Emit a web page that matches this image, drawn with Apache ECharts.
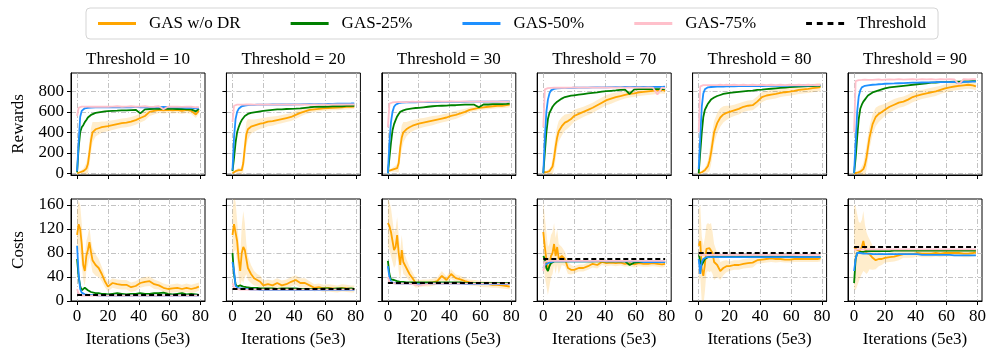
<!DOCTYPE html>
<html>
<head>
<meta charset="utf-8">
<script src="https://cdn.jsdelivr.net/npm/echarts@6/dist/echarts.min.js"></script>
<style>
html, body { margin: 0; padding: 0; background: #fff; }
#chart { width: 997px; height: 360px; }
</style>
</head>
<body>
<div id="chart"></div>
<script>
// x positions (iterations, in units of 5e3) shared by every curve
const iters = [0, 1, 2, 3, 4, 5, 6, 7, 8, 9, 10, 12, 14, 16, 18, 20, 23, 26, 29, 32, 35, 38, 41, 44, 47, 50, 53, 56, 59, 62, 65, 68, 71, 74, 77, 79];
const thresholds = [10, 20, 30, 70, 80, 90];
const xTicks = [0, 20, 40, 60, 80];
const rewardTicks = [0, 200, 400, 600, 800];
const costTicks = [0, 40, 80, 120, 160];

// rewards, one row per threshold panel
const rewardWoDR = [
  [0, 5, 10, 15, 20, 30, 45, 90, 200, 320, 400, 430, 440, 450, 455, 460, 470, 480, 490, 495, 505, 520, 540, 560, 600, 610, 620, 615, 620, 615, 620, 610, 620, 610, 575, 615],
  [0, 10, 20, 25, 30, 20, 30, 100, 250, 380, 430, 455, 465, 475, 485, 490, 505, 510, 520, 530, 540, 550, 570, 590, 605, 620, 625, 630, 635, 638, 640, 642, 645, 648, 650, 652],
  [20, 25, 30, 35, 40, 45, 50, 100, 250, 350, 400, 430, 450, 465, 475, 485, 495, 505, 515, 525, 535, 545, 560, 570, 585, 600, 620, 630, 640, 645, 650, 655, 660, 660, 665, 670],
  [10, 10, 10, 15, 20, 30, 65, 150, 260, 350, 410, 460, 495, 510, 530, 560, 580, 600, 620, 640, 665, 690, 715, 730, 745, 755, 765, 775, 780, 790, 795, 800, 805, 810, 815, 805],
  [0, 5, 10, 20, 30, 45, 70, 120, 200, 300, 400, 490, 545, 575, 590, 600, 615, 630, 650, 660, 665, 700, 745, 760, 768, 775, 785, 792, 798, 805, 815, 820, 825, 832, 838, 842],
  [0, 0, 5, 10, 15, 25, 40, 80, 150, 250, 350, 480, 550, 580, 600, 620, 650, 670, 690, 700, 720, 745, 760, 770, 780, 790, 800, 815, 830, 840, 848, 855, 860, 865, 860, 850]
];
const rewardWoDRSpread = [
  [5, 10, 15, 20, 25, 40, 60, 90, 120, 120, 100, 70, 60, 55, 50, 50, 48, 45, 45, 45, 45, 45, 45, 45, 40, 35, 30, 30, 30, 30, 30, 30, 30, 30, 35, 30],
  [5, 10, 15, 20, 25, 30, 40, 90, 120, 120, 100, 70, 60, 55, 50, 50, 45, 45, 40, 40, 40, 40, 40, 35, 30, 30, 25, 25, 25, 25, 25, 25, 25, 25, 25, 25],
  [5, 10, 15, 20, 25, 30, 40, 90, 120, 120, 100, 70, 60, 55, 50, 50, 45, 45, 45, 40, 40, 40, 40, 40, 35, 30, 25, 25, 25, 25, 25, 25, 25, 25, 25, 25],
  [5, 10, 15, 20, 25, 40, 80, 110, 120, 110, 100, 90, 80, 70, 60, 60, 55, 50, 50, 50, 50, 50, 50, 50, 45, 40, 35, 35, 35, 35, 35, 35, 35, 35, 35, 30],
  [5, 10, 15, 20, 25, 40, 60, 100, 120, 120, 110, 100, 90, 80, 70, 60, 55, 55, 50, 50, 50, 50, 50, 45, 45, 45, 40, 40, 40, 40, 40, 40, 40, 40, 40, 40],
  [5, 10, 15, 20, 25, 40, 60, 100, 120, 120, 110, 100, 90, 80, 70, 60, 55, 55, 50, 50, 50, 50, 50, 45, 45, 45, 45, 40, 40, 40, 40, 40, 40, 40, 40, 40]
];
const reward25 = [
  [10, 250, 400, 450, 470, 500, 520, 545, 560, 570, 580, 590, 595, 600, 605, 608, 610, 612, 615, 615, 618, 620, 585, 625, 628, 630, 630, 630, 632, 630, 628, 630, 625, 625, 605, 630],
  [20, 150, 300, 400, 450, 490, 520, 540, 560, 570, 580, 590, 595, 600, 605, 610, 615, 620, 625, 625, 628, 630, 632, 635, 640, 645, 648, 650, 650, 652, 655, 655, 655, 658, 660, 660],
  [0, 150, 300, 420, 480, 520, 555, 580, 600, 610, 615, 625, 630, 635, 638, 640, 645, 650, 655, 658, 660, 662, 665, 665, 668, 670, 670, 670, 645, 672, 672, 675, 675, 676, 678, 680],
  [0, 200, 400, 530, 590, 620, 650, 670, 686, 700, 715, 730, 745, 752, 758, 762, 768, 774, 780, 785, 790, 798, 802, 806, 810, 816, 818, 775, 820, 822, 822, 823, 823, 823, 823, 823],
  [0, 200, 400, 550, 620, 650, 680, 700, 720, 730, 740, 755, 765, 775, 780, 785, 790, 795, 800, 805, 808, 815, 818, 822, 826, 830, 834, 838, 842, 845, 848, 850, 852, 853, 855, 855],
  [0, 150, 350, 530, 630, 670, 700, 720, 740, 760, 775, 790, 800, 810, 820, 830, 840, 845, 850, 855, 860, 865, 870, 875, 880, 885, 887, 890, 890, 892, 895, 895, 897, 898, 900, 900]
];
const reward50 = [
  [20, 300, 550, 610, 625, 635, 640, 640, 642, 642, 643, 645, 645, 645, 645, 645, 645, 645, 645, 645, 645, 648, 645, 645, 645, 645, 645, 648, 645, 645, 645, 643, 640, 640, 635, 635],
  [30, 350, 530, 600, 630, 645, 655, 660, 662, 665, 665, 668, 668, 670, 670, 670, 670, 672, 672, 672, 672, 672, 674, 674, 675, 675, 675, 676, 676, 678, 678, 680, 680, 680, 682, 684],
  [0, 300, 500, 600, 650, 670, 680, 685, 688, 690, 690, 692, 692, 694, 694, 695, 695, 695, 696, 696, 697, 697, 698, 698, 698, 698, 700, 700, 700, 700, 700, 700, 700, 702, 702, 702],
  [0, 350, 600, 720, 780, 810, 820, 825, 828, 830, 830, 832, 834, 835, 835, 836, 837, 838, 838, 839, 840, 840, 840, 842, 842, 842, 843, 843, 844, 844, 844, 845, 845, 845, 845, 846],
  [40, 350, 650, 780, 820, 835, 840, 842, 843, 844, 845, 846, 847, 848, 849, 850, 850, 851, 851, 852, 852, 853, 853, 854, 854, 855, 855, 855, 856, 856, 857, 858, 858, 859, 860, 862],
  [0, 300, 600, 750, 810, 840, 850, 855, 858, 860, 862, 865, 867, 870, 872, 875, 877, 878, 880, 882, 884, 885, 886, 887, 888, 889, 890, 890, 890, 891, 892, 880, 893, 894, 895, 895]
];
const reward75 = [
  [560, 640, 650, 652, 650, 652, 650, 652, 650, 650, 652, 650, 652, 650, 652, 650, 652, 655, 650, 652, 655, 650, 652, 655, 648, 650, 655, 625, 650, 652, 650, 648, 652, 650, 645, 645],
  [500, 660, 668, 670, 668, 670, 672, 670, 670, 672, 670, 672, 670, 670, 672, 670, 672, 670, 672, 670, 672, 670, 672, 670, 672, 670, 672, 670, 672, 670, 672, 672, 674, 672, 674, 672],
  [450, 680, 690, 692, 695, 695, 695, 698, 695, 695, 698, 695, 698, 700, 698, 700, 698, 700, 700, 702, 700, 700, 702, 700, 700, 702, 700, 700, 702, 700, 700, 702, 700, 702, 700, 702],
  [450, 820, 830, 832, 835, 835, 838, 836, 838, 836, 838, 838, 836, 838, 838, 840, 838, 840, 838, 840, 838, 840, 838, 840, 838, 840, 838, 840, 838, 840, 838, 840, 838, 770, 838, 830],
  [400, 850, 860, 862, 865, 862, 865, 862, 865, 862, 865, 862, 865, 862, 865, 862, 865, 862, 865, 862, 865, 862, 865, 862, 865, 862, 865, 862, 865, 862, 865, 862, 865, 862, 865, 862],
  [400, 900, 905, 910, 908, 912, 910, 915, 910, 912, 915, 912, 915, 918, 912, 915, 918, 915, 920, 915, 918, 920, 915, 920, 918, 920, 915, 920, 918, 920, 918, 870, 920, 918, 920, 920]
];

// costs, one row per threshold panel
const costWoDR = [
  [110, 128, 120, 95, 60, 50, 75, 85, 98, 82, 68, 60, 55, 45, 33, 24, 30, 28, 27, 27, 23, 25, 30, 32, 33, 28, 26, 22, 20, 21, 22, 20, 22, 20, 22, 24],
  [110, 128, 125, 100, 70, 50, 80, 90, 85, 70, 55, 45, 38, 35, 32, 26, 28, 26, 30, 26, 28, 32, 35, 30, 30, 26, 22, 23, 21, 22, 21, 20, 22, 21, 20, 20],
  [130, 125, 115, 100, 85, 90, 110, 80, 60, 85, 65, 55, 45, 38, 30, 29, 30, 30, 31, 33, 42, 35, 45, 38, 36, 33, 31, 30, 29, 28, 28, 27, 27, 26, 25, 24],
  [115, 90, 70, 50, 60, 75, 80, 95, 75, 90, 70, 75, 70, 55, 52, 52, 55, 55, 58, 62, 60, 65, 63, 64, 63, 64, 62, 63, 61, 63, 62, 62, 63, 62, 61, 62],
  [92, 100, 53, 42, 60, 87, 90, 88, 90, 80, 65, 60, 50, 55, 58, 58, 60, 60, 62, 63, 64, 68, 69, 70, 71, 70, 70, 69, 69, 70, 70, 70, 70, 70, 70, 71],
  [90, 88, 85, 82, 85, 90, 100, 88, 80, 78, 78, 72, 68, 70, 70, 72, 73, 74, 76, 78, 78, 78, 80, 79, 79, 79, 80, 79, 80, 80, 80, 80, 79, 79, 80, 81]
];
const costWoDRSpread = [
  [40, 40, 40, 35, 25, 25, 25, 25, 25, 20, 20, 18, 15, 12, 10, 8, 8, 8, 8, 8, 8, 8, 8, 8, 8, 8, 7, 7, 7, 7, 7, 7, 7, 7, 7, 7],
  [40, 45, 40, 35, 30, 25, 45, 60, 45, 25, 20, 15, 12, 10, 10, 8, 8, 8, 8, 8, 8, 8, 8, 8, 8, 7, 6, 6, 6, 6, 6, 6, 6, 6, 6, 6],
  [40, 40, 40, 35, 30, 30, 30, 30, 25, 25, 20, 15, 12, 10, 8, 6, 6, 6, 6, 6, 8, 6, 8, 6, 6, 5, 5, 5, 5, 5, 5, 5, 5, 5, 5, 5],
  [50, 50, 45, 40, 35, 35, 35, 35, 30, 30, 25, 15, 12, 10, 8, 6, 6, 6, 6, 6, 6, 5, 5, 5, 5, 5, 5, 5, 5, 5, 5, 5, 5, 5, 5, 5],
  [60, 60, 55, 50, 45, 40, 40, 40, 40, 35, 30, 20, 15, 12, 10, 8, 8, 8, 8, 8, 8, 6, 6, 6, 6, 6, 5, 5, 5, 5, 5, 5, 5, 5, 5, 5],
  [70, 70, 60, 50, 45, 45, 50, 40, 35, 30, 25, 20, 15, 12, 10, 8, 8, 8, 8, 6, 6, 6, 6, 6, 6, 6, 6, 6, 6, 6, 6, 6, 6, 6, 6, 6]
];
const cost25 = [
  [70, 40, 25, 18, 16, 22, 20, 18, 16, 15, 14, 13, 13, 12, 12, 11, 12, 13, 12, 11, 12, 12, 13, 12, 12, 13, 13, 14, 12, 11, 12, 13, 11, 12, 11, 10],
  [80, 45, 28, 24, 22, 26, 25, 24, 24, 23, 23, 22, 22, 22, 21, 21, 21, 21, 20, 21, 21, 21, 21, 20, 20, 20, 20, 20, 21, 21, 20, 21, 21, 20, 21, 20],
  [67, 45, 36, 34, 35, 33, 33, 32, 32, 32, 32, 31, 31, 31, 31, 31, 31, 31, 31, 31, 31, 31, 31, 31, 31, 30, 30, 30, 30, 30, 30, 30, 30, 30, 30, 30],
  [75, 70, 55, 50, 58, 63, 65, 66, 66, 66, 66, 66, 66, 66, 66, 66, 66, 66, 66, 66, 66, 66, 66, 66, 66, 66, 66, 60, 64, 65, 65, 65, 65, 65, 65, 65],
  [80, 65, 60, 65, 70, 72, 73, 74, 74, 74, 74, 74, 74, 74, 74, 74, 74, 74, 74, 74, 74, 74, 74, 74, 74, 74, 74, 74, 74, 74, 73, 73, 73, 73, 73, 73],
  [30, 70, 80, 82, 82, 82, 82, 83, 83, 83, 83, 83, 83, 83, 83, 83, 83, 84, 84, 84, 84, 84, 84, 84, 84, 84, 84, 84, 84, 84, 84, 84, 84, 84, 84, 84]
];
const cost50 = [
  [92, 45, 20, 14, 12, 11, 10, 10, 10, 10, 10, 10, 9, 9, 9, 9, 9, 9, 9, 9, 9, 9, 9, 9, 9, 9, 9, 9, 9, 9, 9, 9, 9, 9, 9, 9],
  [65, 50, 25, 22, 21, 22, 21, 20, 20, 20, 20, 19, 19, 19, 18, 18, 18, 18, 18, 18, 18, 18, 18, 18, 18, 18, 18, 18, 18, 18, 18, 18, 18, 18, 18, 18],
  [58, 40, 32, 30, 30, 30, 29, 29, 29, 29, 29, 29, 29, 28, 28, 28, 28, 28, 29, 29, 29, 29, 29, 29, 29, 28, 28, 28, 28, 28, 28, 28, 28, 28, 28, 29],
  [55, 60, 62, 63, 64, 65, 66, 66, 66, 66, 66, 66, 66, 66, 66, 66, 66, 66, 66, 66, 67, 67, 66, 66, 66, 66, 66, 66, 66, 66, 65, 65, 65, 65, 65, 65],
  [70, 45, 65, 70, 73, 73, 73, 73, 73, 73, 73, 73, 73, 73, 73, 73, 73, 73, 73, 73, 73, 73, 73, 73, 73, 73, 73, 73, 73, 73, 73, 73, 73, 73, 73, 73],
  [50, 70, 80, 78, 80, 79, 79, 79, 79, 79, 79, 78, 78, 78, 78, 78, 78, 78, 78, 78, 78, 78, 78, 77, 77, 77, 77, 77, 77, 77, 76, 76, 76, 76, 76, 76]
];
const cost75 = [
  [20, 12, 10, 9, 9, 9, 9, 9, 9, 9, 9, 9, 9, 9, 9, 9, 9, 9, 9, 9, 9, 9, 9, 9, 9, 9, 9, 9, 9, 9, 9, 9, 9, 9, 9, 9],
  [30, 22, 20, 20, 19, 19, 19, 19, 19, 19, 19, 19, 19, 19, 19, 19, 19, 19, 19, 19, 19, 19, 19, 19, 19, 19, 19, 19, 19, 19, 19, 19, 19, 19, 19, 19],
  [40, 32, 30, 30, 30, 29, 29, 29, 29, 29, 29, 29, 29, 28, 27, 26, 27, 28, 29, 29, 29, 29, 29, 29, 29, 29, 29, 29, 29, 29, 29, 29, 29, 29, 29, 29],
  [50, 65, 66, 67, 67, 67, 67, 67, 67, 67, 67, 67, 67, 67, 67, 67, 67, 67, 67, 67, 67, 67, 67, 67, 67, 67, 67, 67, 67, 67, 67, 67, 67, 67, 67, 67],
  [80, 76, 77, 77, 77, 77, 77, 77, 77, 77, 77, 77, 77, 77, 77, 77, 77, 77, 77, 77, 77, 77, 77, 77, 77, 77, 77, 77, 77, 77, 77, 77, 77, 77, 77, 77],
  [85, 86, 86, 86, 86, 86, 86, 86, 86, 86, 86, 86, 86, 86, 86, 86, 86, 86, 86, 86, 86, 86, 86, 86, 86, 86, 86, 86, 86, 86, 86, 86, 86, 86, 86, 86]
];

const FONT = '"Liberation Serif", "Times New Roman", serif';
const colLeft = 71, colStep = 155.4, colWidth = 134;
const rowTop = [73, 199], rowHeight = 102;

const rewardSets = [
  { name: 'GAS w/o DR', color: '#ffa500', data: rewardWoDR },
  { name: 'GAS-25%', color: '#008000', data: reward25 },
  { name: 'GAS-50%', color: '#1e90ff', data: reward50 },
  { name: 'GAS-75%', color: '#ffc0cb', data: reward75 }
];
const costSets = [
  { name: 'GAS w/o DR', color: '#ffa500', data: costWoDR },
  { name: 'GAS-25%', color: '#008000', data: cost25 },
  { name: 'GAS-50%', color: '#1e90ff', data: cost50 },
  { name: 'GAS-75%', color: '#ffc0cb', data: cost75 }
];

function pairs(vals) {
  return vals.map((v, i) => [iters[i], v]);
}

// filled band mean +- spread, drawn as one polygon through the axis scales
function bandSeries(k, mean, spread) {
  return {
    type: 'custom', xAxisIndex: k, yAxisIndex: k, silent: true, z: 1, clip: true,
    data: mean.map((v, i) => [iters[i], v - spread[i], v + spread[i]]),
    encode: { x: 0, y: [1, 2] },
    renderItem: function (params, api) {
      if (params.dataIndex !== 0) return;
      const upper = [], lower = [];
      for (let i = 0; i < iters.length; i++) {
        upper.push(api.coord([iters[i], mean[i] + spread[i]]));
        lower.unshift(api.coord([iters[i], mean[i] - spread[i]]));
      }
      return {
        type: 'polygon',
        shape: { points: upper.concat(lower) },
        style: { fill: 'rgba(255,165,0,0.2)', stroke: 'none' }
      };
    }
  };
}

const gridLine = { color: '#b4b4b4', width: 0.8, type: [5, 2, 1, 2] };
const labelStyle = { color: '#000', fontSize: 17, fontFamily: FONT };

const grids = [], xAxes = [], yAxes = [], series = [];

for (let row = 0; row < 2; row++) {
  for (let col = 0; col < 6; col++) {
    const k = row * 6 + col;
    const yTicks = row === 0 ? rewardTicks : costTicks;
    grids.push({
      left: colLeft + col * colStep, top: rowTop[row], width: colWidth, height: rowHeight,
      show: true, borderColor: '#000', borderWidth: 1, backgroundColor: 'transparent'
    });
    xAxes.push({
      type: 'value', gridIndex: k, min: -3.95, max: 82.95,
      axisLine: { show: true, onZero: false, lineStyle: { color: '#000' } },
      axisTick: { show: true, customValues: xTicks, length: 4, lineStyle: { color: '#000' } },
      axisLabel: Object.assign({ show: row === 1, customValues: xTicks, margin: 7 }, labelStyle),
      splitLine: { show: true, lineStyle: gridLine },
      name: row === 1 ? 'Iterations (5e3)' : '',
      nameLocation: 'middle', nameGap: 30, nameTextStyle: labelStyle
    });
    yAxes.push({
      type: 'value', gridIndex: k,
      min: row === 0 ? -17 : 0, max: row === 0 ? 980 : 170,
      axisLine: { show: true, onZero: false, lineStyle: { color: '#000' } },
      axisTick: { show: true, customValues: yTicks, length: 4, lineStyle: { color: '#000' } },
      axisLabel: Object.assign({ show: col === 0, customValues: yTicks, margin: 7 }, labelStyle),
      splitLine: { show: true, lineStyle: gridLine },
      name: col === 0 ? (row === 0 ? 'Rewards' : 'Costs') : '',
      nameLocation: 'middle', nameGap: 44, nameRotate: 90, nameTextStyle: labelStyle
    });

    const sets = row === 0 ? rewardSets : costSets;
    const spread = row === 0 ? rewardWoDRSpread[col] : costWoDRSpread[col];
    series.push(bandSeries(k, sets[0].data[col], spread));

    sets.forEach(s => {
      series.push({
        name: s.name, type: 'line', xAxisIndex: k, yAxisIndex: k,
        symbol: 'none', z: 3, color: s.color,
        lineStyle: { width: 1.8, color: s.color },
        data: pairs(s.data[col])
      });
    });

    if (row === 1) {
      series.push({
        name: 'Threshold', type: 'line', xAxisIndex: k, yAxisIndex: k,
        symbol: 'none', z: 4, color: '#000',
        lineStyle: { width: 2, color: '#000', type: [5, 3] },
        data: [[iters[0], thresholds[col]], [iters[iters.length - 1], thresholds[col]]]
      });
    }
  }
}

const solidIcon = 'path://M0,0h40v3h-40z';
const dashIcon = 'path://M0,0h6v3h-6zM11,0h6v3h-6zM22,0h6v3h-6zM33,0h6v3h-6z';

const chart = echarts.init(document.getElementById('chart'));
chart.setOption({
  animation: false,
  backgroundColor: '#fff',
  legend: {
    data: [
      { name: 'GAS w/o DR', icon: solidIcon },
      { name: 'GAS-25%', icon: solidIcon },
      { name: 'GAS-50%', icon: solidIcon },
      { name: 'GAS-75%', icon: solidIcon },
      { name: 'Threshold', icon: dashIcon }
    ],
    left: 86, top: 8, padding: [7, 12],
    itemGap: 50, itemWidth: 38, itemHeight: 3,
    borderColor: '#d5d5d5', borderWidth: 1, borderRadius: 4,
    selectedMode: false,
    textStyle: Object.assign({ padding: [0, 0, 0, 8] }, labelStyle)
  },
  graphic: thresholds.map((t, col) => ({
    type: 'text',
    x: colLeft + col * colStep + colWidth / 2,
    y: 60,
    style: {
      text: 'Threshold = ' + t, fill: '#000', fontSize: 17, fontFamily: FONT,
      align: 'center', verticalAlign: 'middle'
    }
  })),
  grid: grids,
  xAxis: xAxes,
  yAxis: yAxes,
  series: series
});
</script>
</body>
</html>
